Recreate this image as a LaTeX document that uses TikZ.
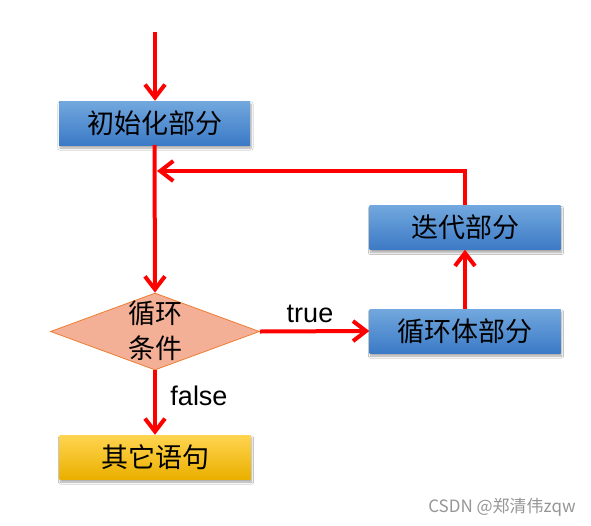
\documentclass[tikz,border=0pt]{standalone}
\usepackage{fontspec}
\setmainfont{Liberation Sans}
\newfontfamily\cjk{Noto Sans CJK SC}
\usetikzlibrary{arrows.meta,shapes.geometric,shadows.blur}
\definecolor{bluetop}{RGB}{114,168,222}
\definecolor{bluebot}{RGB}{60,122,198}
\definecolor{goldtop}{RGB}{255,212,80}
\definecolor{goldbot}{RGB}{234,176,0}
\definecolor{diafill}{RGB}{244,176,150}
\definecolor{diadraw}{RGB}{237,125,49}
\definecolor{flowred}{RGB}{255,0,0}
\definecolor{wmgray}{RGB}{150,150,150}
\tikzset{
  bluebox/.style={rectangle, minimum width=191pt, minimum height=44pt, inner sep=0pt,
    top color=bluetop, bottom color=bluebot, draw=none,
    font=\cjk\fontsize{27}{30}\selectfont,
    blur shadow={shadow xshift=1pt, shadow yshift=-3pt, shadow blur steps=6, shadow opacity=35}},
  goldbox/.style={bluebox, top color=goldtop, bottom color=goldbot},
  flow/.style={draw=flowred, line width=4pt, -{Straight Barb[length=13pt,width=20pt,line width=4pt]}},
  lbl/.style={font=\fontsize{27}{30}\selectfont, inner sep=0pt}
}
\begin{document}
\begin{tikzpicture}[x=1pt,y=-1pt]
\useasboundingbox (0,0) rectangle (591,525);
\fill[white] (0,0) rectangle (591,525);
\coordinate (start) at (155,32);
\node[bluebox] (init) at (154.5,123) {初始化部分};
\node[shape=diamond, minimum width=209pt, minimum height=77pt, inner sep=0pt, fill=diafill, draw=diadraw, line width=0.8pt] (dia) at (155,331.5) {};
\node[align=center, font=\cjk\fontsize{27}{35}\selectfont, inner sep=0pt] (diatext) at (155,331) {循环\\条件};
\node[bluebox] (body) at (465,331) {循环体部分};
\node[bluebox] (iter) at (465,227.5) {迭代部分};
\node[goldbox] (other) at (155,457) {其它语句};
\coordinate (fb) at (157,171);
\draw[flow] (init.south) -- (dia.north);
\draw[flow] (start) -- (start |- init.north);
\draw[flow] (iter.north) |- (fb);
\draw[flow] (body.north) -- (iter.south);
\draw[flow] (dia.east) -- (body.west);
\draw[flow] (dia.south) -- (other.north);
\node[lbl] (ltrue) at (310,314) {true};
\node[lbl] (lfalse) at (199,396) {false};
\node[font=\cjk\fontsize{17}{20}\selectfont, text=wmgray, inner sep=0pt] (wm) at (502,507) {CSDN @郑清伟zqw};
\end{tikzpicture}
\end{document}
